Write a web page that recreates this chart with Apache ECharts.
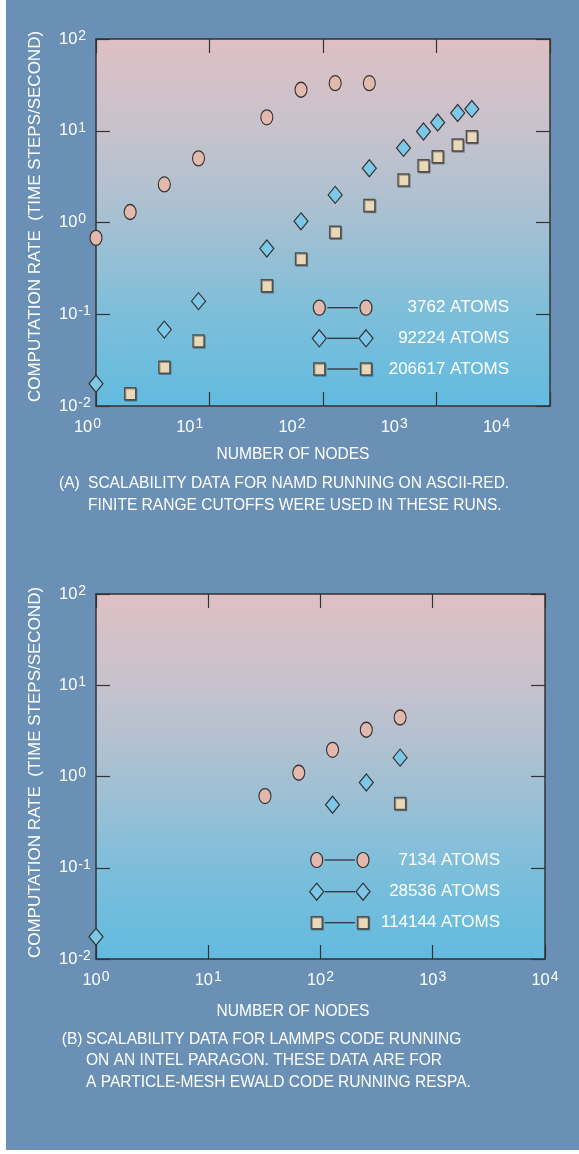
<!DOCTYPE html>
<html><head><meta charset="utf-8">
<script src="https://cdn.jsdelivr.net/npm/echarts/dist/echarts.min.js"></script>
<style>
html,body{margin:0;padding:0;background:#fff;width:579px;height:1154px;overflow:hidden}
#panel{position:absolute;left:6px;top:0;width:573px;height:1150px;background:#6a91b5}
#chart{position:absolute;left:0;top:0;width:579px;height:1154px}
</style></head><body><div id="panel"></div><div id="chart"></div>
<script>
// ---------- data ----------
const xTickExps = ['0', '1', '2', '3', '4'];
const yTickExps = ['-2', '-1', '0', '1', '2'];

// (A) NAMD on ASCII-Red
const namdNodes3762 = [1, 2, 4, 8, 32, 64, 128, 256];
const namdRate3762 = [0.68, 1.3, 2.6, 5.0, 14, 28, 33, 33];
const namdNodes92224 = [1, 4, 8, 32, 64, 128, 256, 512, 768, 1024, 1536, 2048];
const namdRate92224 = [0.0175, 0.068, 0.139, 0.52, 1.03, 2.0, 3.9, 6.5, 9.8, 12.3, 15.6, 17.3];
const namdNodes206617 = [2, 4, 8, 32, 64, 128, 256, 512, 768, 1024, 1536, 2048];
const namdRate206617 = [0.0136, 0.0265, 0.051, 0.204, 0.40, 0.785, 1.53, 2.9, 4.15, 5.2, 7.0, 8.6];
const legendA = ['3762 ATOMS', '92224 ATOMS', '206617 ATOMS'];

// (B) LAMMPS on Intel Paragon
const lammpsNodes7134 = [32, 64, 128, 256, 512];
const lammpsRate7134 = [0.61, 1.1, 1.96, 3.25, 4.43];
const lammpsNodes28536 = [1, 128, 256, 512];
const lammpsRate28536 = [0.0175, 0.49, 0.86, 1.61];
const lammpsNodes114144 = [512];
const lammpsRate114144 = [0.506];
const legendB = ['7134 ATOMS', '28536 ATOMS', '114144 ATOMS'];

const xTitle = 'NUMBER OF NODES';
const yTitle = 'COMPUTATION RATE  (TIME STEPS/SECOND)';
const captionA = ['(A)', 'SCALABILITY DATA FOR NAMD RUNNING ON ASCII-RED.', 'FINITE RANGE CUTOFFS WERE USED IN THESE RUNS.'];
const captionB = ['(B)', 'SCALABILITY DATA FOR LAMMPS CODE RUNNING', 'ON AN INTEL PARAGON. THESE DATA ARE FOR', 'A PARTICLE-MESH EWALD CODE RUNNING RESPA.'];

// ---------- style ----------
const FONT = '"Liberation Sans", Arial, Helvetica, sans-serif';
const C_CIRCLE = '#e2b9ac', C_DIAMOND = '#7dc8e8', C_SQUARE = '#ead9b8';
const STROKE = '#333';
const ELLIPSE = 'path://M6,0A6,7.5,0,1,1,6,15A6,7.5,0,1,1,6,0Z';
const CAP_SIZE = 17, CAP_SX = 0.915;

const zip = (a, b) => a.map((v, i) => [v, b[i]]);
const rich = {
  b: { fontSize: 16.5, lineHeight: 20, color: '#fff', fontFamily: FONT },
  s: { fontSize: 14, lineHeight: 13, verticalAlign: 'top', color: '#fff', fontFamily: FONT, padding: [0, 0, 0, 1] }
};
const fmt = (exps, min) => v => {
  const e = Math.round(Math.log10(v));
  return '{b|10}{s|' + exps[e - min] + '}';
};
const bg = {
  type: 'linear', x: 0, y: 0, x2: 0, y2: 1,
  colorStops: [
    { offset: 0, color: '#dec0c4' }, { offset: 0.25, color: '#c7c2cd' },
    { offset: 0.5, color: '#a5c0d2' }, { offset: 0.75, color: '#7dbeda' },
    { offset: 1, color: '#62bbdf' }
  ]
};
const tick = { show: true, inside: true, length: 14, lineStyle: { color: STROKE, width: 1.2 } };
const line = { show: true, lineStyle: { color: STROKE, width: 1.5 } };

function frameX(grid, pos) {
  return { gridIndex: grid, type: 'log', logBase: 10, min: 1, max: 10000, splitNumber: 4, position: pos,
    axisLine: line, axisTick: tick, axisLabel: { show: false }, splitLine: { show: false } };
}
function frameY(grid, pos, labels) {
  const a = { gridIndex: grid, type: 'log', logBase: 10, min: 0.01, max: 100, splitNumber: 4, position: pos,
    axisLine: line, axisTick: tick, splitLine: { show: false }, axisLabel: { show: false } };
  if (labels) {
    a.axisLabel = { show: true, align: 'left', margin: 37, formatter: fmt(yTickExps, -2), rich: rich };
    a.name = yTitle; a.nameLocation = 'middle'; a.nameRotate = 90; a.nameGap = 61;
    a.nameTextStyle = { color: '#fff', fontSize: 17, fontFamily: FONT, align: 'center', verticalAlign: 'middle', padding: labels.pad };
  }
  return a;
}
function sc(name, x, y, sym, size, color, xi, yi, extra) {
  return Object.assign({
    name: name, type: 'scatter', xAxisIndex: xi, yAxisIndex: yi, clip: false,
    symbol: sym, symbolSize: size, data: zip(x, y),
    itemStyle: { color: color, borderColor: STROKE, borderWidth: 1.2, opacity: 1 },
    emphasis: { disabled: true }
  }, extra || {});
}
const sqStyle = { itemStyle: { color: C_SQUARE, opacity: 1, borderColor: '#505050', borderWidth: 1.4, shadowColor: 'rgba(0,0,0,0.3)', shadowOffsetX: 1, shadowOffsetY: 1, shadowBlur: 0 } };

// legend rows (decoration)
function legendRows(names, x1, x2, ys, right) {
  const out = [];
  const kinds = ['circle', 'diamond', 'square'];
  names.forEach((t, i) => {
    const cy = ys[i];
    out.push({ type: 'line', shape: { x1: x1 + 8, y1: cy, x2: x2 - 8, y2: cy }, style: { stroke: STROKE, lineWidth: 1.3 } });
    [x1, x2].forEach(cx => {
      if (kinds[i] === 'circle') out.push({ type: 'ellipse', shape: { cx: cx, cy: cy, rx: 6, ry: 7.5 }, style: { fill: C_CIRCLE, stroke: STROKE, lineWidth: 1.2 } });
      else if (kinds[i] === 'diamond') out.push({ type: 'polygon', shape: { points: [[cx, cy - 8.5], [cx + 7, cy], [cx, cy + 8.5], [cx - 7, cy]] }, style: { fill: C_DIAMOND, stroke: STROKE, lineWidth: 1.2 } });
      else out.push({ type: 'rect', shape: { x: cx - 5.5, y: cy - 6, width: 11, height: 12 }, style: { fill: C_SQUARE, stroke: '#505050', lineWidth: 1.4, shadowColor: 'rgba(0,0,0,0.3)', shadowOffsetX: 1, shadowOffsetY: 1 } });
    });
    out.push({ type: 'text', x: right, y: cy, style: { text: t, fill: '#fff', font: '17px ' + FONT, align: 'right', verticalAlign: 'middle', textAlign: 'right', textVerticalAlign: 'middle' } });
  });
  return out;
}
function textAt(x, y, t, align) {
  return { type: 'text', x: x, y: y, scaleX: CAP_SX,
    style: { text: t, fill: '#fff', font: CAP_SIZE + 'px ' + FONT, align: align || 'left', verticalAlign: 'middle', textAlign: align || 'left', textVerticalAlign: 'middle' } };
}

const option = {
  animation: false,
  textStyle: { fontFamily: FONT },
  grid: [
    { left: 96, top: 39, width: 454, height: 367, show: true, backgroundColor: bg, borderWidth: 0 },
    { left: 96, top: 594, width: 449, height: 365, show: true, backgroundColor: bg, borderWidth: 0 },
    { left: 87.5, top: 39, width: 409, height: 367, show: false }
  ],
  xAxis: [
    frameX(0, 'bottom'),
    frameX(0, 'top'),
    { gridIndex: 2, type: 'log', logBase: 10, min: 1, max: 10000, splitNumber: 4, position: 'bottom',
      axisLine: { show: false }, axisTick: { show: false }, splitLine: { show: false },
      axisLabel: { show: true, margin: 11, formatter: fmt(xTickExps, 0), rich: rich } },
    Object.assign(frameX(1, 'bottom'), {
      axisLabel: { show: true, margin: 11, formatter: fmt(xTickExps, 0), rich: rich } }),
    frameX(1, 'top')
  ],
  yAxis: [
    frameY(0, 'left', { pad: [0, 0, 0, 12] }),
    frameY(0, 'right'),
    { gridIndex: 2, type: 'value', show: false },
    frameY(1, 'left', { pad: [0, 0, 0, 8] }),
    frameY(1, 'right')
  ],
  series: [
    sc(legendA[0], namdNodes3762, namdRate3762, ELLIPSE, [12, 15], C_CIRCLE, 0, 0),
    sc(legendA[1], namdNodes92224, namdRate92224, 'diamond', [14, 17], C_DIAMOND, 0, 0),
    sc(legendA[2], namdNodes206617, namdRate206617, 'rect', [11, 12], C_SQUARE, 0, 0, sqStyle),
    sc(legendB[0], lammpsNodes7134, lammpsRate7134, ELLIPSE, [12, 15], C_CIRCLE, 3, 3),
    sc(legendB[1], lammpsNodes28536, lammpsRate28536, 'diamond', [14, 17], C_DIAMOND, 3, 3),
    sc(legendB[2], lammpsNodes114144, lammpsRate114144, 'rect', [11, 12], C_SQUARE, 3, 3, sqStyle)
  ],
  graphic: [].concat(
    legendRows(legendA, 319.3, 366, [307.7, 338.3, 369], 509),
    legendRows(legendB, 316.7, 363, [860, 891.7, 922.7], 500),
    [
      textAt(293, 454, xTitle, 'center'),
      textAt(293, 1011, xTitle, 'center'),
      textAt(59, 483, captionA[0]), textAt(88, 483, captionA[1]), textAt(88, 505, captionA[2]),
      textAt(61.7, 1039, captionB[0]), textAt(86, 1039, captionB[1]), textAt(86, 1060.5, captionB[2]), textAt(86, 1082, captionB[3])
    ]
  )
};
const chart = echarts.init(document.getElementById('chart'), null, { renderer: 'canvas' });
chart.setOption(option);
</script></body></html>
